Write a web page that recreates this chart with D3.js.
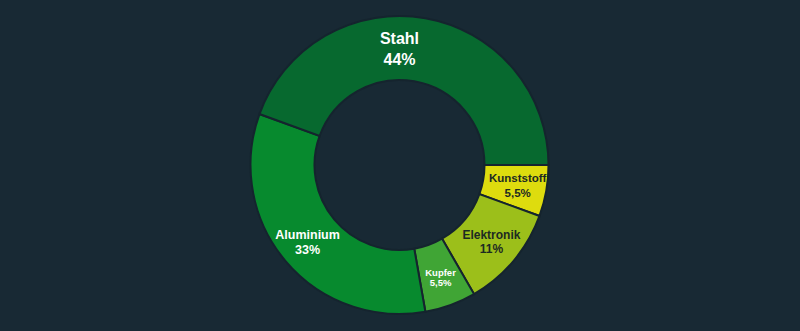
<!DOCTYPE html>
<html><head><meta charset="utf-8">
<script src="https://cdn.jsdelivr.net/npm/d3@7"></script>
<style>html,body{margin:0;padding:0;background:#182934;}svg{display:block;}</style>
</head><body>
<script>
const categories = ["Kunststoff", "Elektronik", "Kupfer", "Aluminium", "Stahl"];
const values = [5.5, 11, 5.5, 33, 44];
const valueLabels = ["5,5%", "11%", "5,5%", "33%", "44%"];
const colors = ["#dedc0e", "#9cbf1a", "#40a535", "#078a2e", "#07692f"];
const textColors = ["#1c2a22", "#1c2a22", "#ffffff", "#ffffff", "#ffffff"];
const fontSizes = [11.5, 12, 9.5, 12.5, 16];
const lineGaps = [15, 14, 10.5, 15, 21];

const W = 800, H = 331;
const cx = 399.5, cy = 165, rOuter = 149, rInner = 85, rLabel = 120;

const svg = d3.select("body").append("svg").attr("width", W).attr("height", H);
svg.append("rect").attr("width", W).attr("height", H).attr("fill", "#182934");

const data = categories.map((c, i) => ({name: c, value: values[i], label: valueLabels[i], i}));
const pie = d3.pie().value(d => d.value).sort(null)
  .startAngle(Math.PI / 2).endAngle(Math.PI / 2 + 2 * Math.PI);
const arcs = pie(data);
const arc = d3.arc().innerRadius(rInner).outerRadius(rOuter);

const g = svg.append("g").attr("transform", `translate(${cx},${cy})`);
g.selectAll("path").data(arcs).join("path")
  .attr("d", arc)
  .attr("fill", d => colors[d.data.i])
  .attr("stroke", "#15242e")
  .attr("stroke-width", 2)
  .attr("stroke-linejoin", "miter");

const labels = g.selectAll("g.lbl").data(arcs).join("g").attr("class", "lbl")
  .attr("transform", d => {
    let a = (d.startAngle + d.endAngle) / 2;
    // slice spanning the top: put label at the top
    if (d.startAngle < 2 * Math.PI && d.endAngle > 2 * Math.PI) a = 0;
    const x = rLabel * Math.sin(a), y = -rLabel * Math.cos(a);
    return `translate(${x},${y})`;
  });
labels.each(function(d) {
  const i = d.data.i, f = fontSizes[i], L = lineGaps[i], c = 0.72 * f;
  const b1 = -(L - c) / 2;
  const sel = d3.select(this);
  const r = d.data.name === "Stahl" ? 116 / rLabel : 1;
  sel.append("text").attr("y", b1).text(d.data.name);
  sel.append("text").attr("y", b1 + L).text(d.data.label);
  sel.selectAll("text")
    .attr("text-anchor", "middle")
    .attr("font-family", "Liberation Sans, Arial, sans-serif")
    .attr("font-weight", "bold")
    .attr("font-size", f + "px")
    .attr("fill", textColors[i]);
  if (r !== 1) sel.attr("transform", `translate(0,${-116 * 1})`);
});
</script>
</body></html>
